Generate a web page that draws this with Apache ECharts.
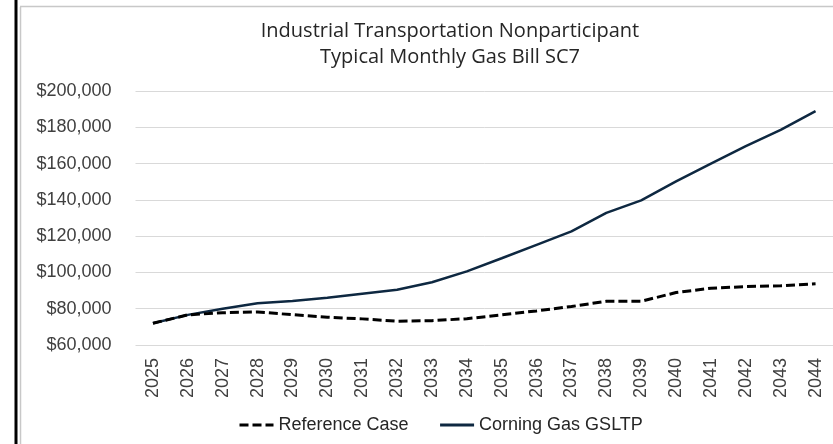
<!DOCTYPE html>
<html>
<head>
    <meta charset="utf-8">
    <script src="https://cdn.jsdelivr.net/npm/echarts@6/dist/echarts.min.js"></script>
    <style>
        html, body { margin: 0; padding: 0; background: #fff; }
    </style>
</head>
<body>
    <div id="main" style="width:833px;height:444px"></div>

    <script type="text/javascript">
        // years on the x axis
        var years = ['2025','2026','2027','2028','2029','2030','2031','2032','2033','2034',
                     '2035','2036','2037','2038','2039','2040','2041','2042','2043','2044'];
        // typical monthly bill, $
        var referenceCase = [72000, 76600, 77800, 78200, 76700, 75300, 74400, 73100, 73400, 74500,
                             76600, 78800, 81200, 84100, 84100, 88900, 91300, 92200, 92600, 93700];
        var corningGslTP = [72000, 76600, 80000, 83000, 84300, 86000, 88300, 90400, 94600, 100600,
                            107800, 115200, 122600, 132800, 139700, 150200, 160000, 169600, 178600, 188900];

        var myChart = echarts.init(document.getElementById('main'));
        var option = {
            backgroundColor: '#ffffff',
            animation: false,
            title: {
                text: 'Industrial Transportation Nonparticipant\nTypical Monthly Gas Bill SC7',
                left: 445,
                textAlign: 'center',
                top: 13,
                textStyle: {
                    fontFamily: 'Open Sans',
                    fontSize: 20,
                    fontWeight: 'normal',
                    color: '#262626',
                    lineHeight: 26
                }
            },
            grid: {
                left: 135.5,
                right: -4.5,
                top: 91,
                bottom: 99,
                containLabel: false
            },
            legend: {
                data: ['Reference Case', 'Corning Gas GSLTP'],
                left: 233,
                top: 411,
                itemWidth: 34,
                itemHeight: 14,
                itemGap: 30,
                itemStyle: { opacity: 0 },
                lineStyle: { width: 3 },
                textStyle: {
                    fontFamily: 'Liberation Sans',
                    fontSize: 18,
                    color: '#262626'
                }
            },
            xAxis: {
                type: 'category',
                data: years,
                boundaryGap: true,
                axisLine: { show: false },
                axisTick: { show: false },
                axisLabel: {
                    rotate: 90,
                    margin: 13,
                    interval: 0,
                    fontFamily: 'Liberation Sans',
                    fontSize: 18,
                    color: '#404040'
                }
            },
            yAxis: {
                type: 'value',
                min: 60000,
                max: 200000,
                interval: 20000,
                axisLine: { show: false },
                axisTick: { show: false },
                splitLine: { lineStyle: { color: '#d9d9d9', width: 1 } },
                axisLabel: {
                    margin: 24,
                    fontFamily: 'Liberation Sans',
                    fontSize: 18,
                    color: '#404040',
                    formatter: function (v) {
                        return '$' + v.toLocaleString('en-US');
                    }
                }
            },
            series: [{
                name: 'Reference Case',
                type: 'line',
                symbol: 'none',
                data: referenceCase,
                z: 3,
                lineStyle: { color: '#000000', width: 3, type: [9, 4] },
                itemStyle: { color: '#000000' }
            }, {
                name: 'Corning Gas GSLTP',
                type: 'line',
                symbol: 'none',
                data: corningGslTP,
                z: 2,
                lineStyle: { color: '#0e2841', width: 2.5 },
                itemStyle: { color: '#0e2841' }
            }],
            graphic: [{
                type: 'line',
                shape: { x1: 16, y1: 0, x2: 16, y2: 444 },
                style: { stroke: '#000000', lineWidth: 3 }
            }, {
                type: 'line',
                shape: { x1: 20.5, y1: 7, x2: 20.5, y2: 444 },
                style: { stroke: '#c8c8c8', lineWidth: 1.5 }
            }, {
                type: 'line',
                shape: { x1: 20, y1: 6.5, x2: 833, y2: 6.5 },
                style: { stroke: '#c8c8c8', lineWidth: 1.5 }
            }]
        };

        myChart.setOption(option);
    </script>
</body>
</html>
